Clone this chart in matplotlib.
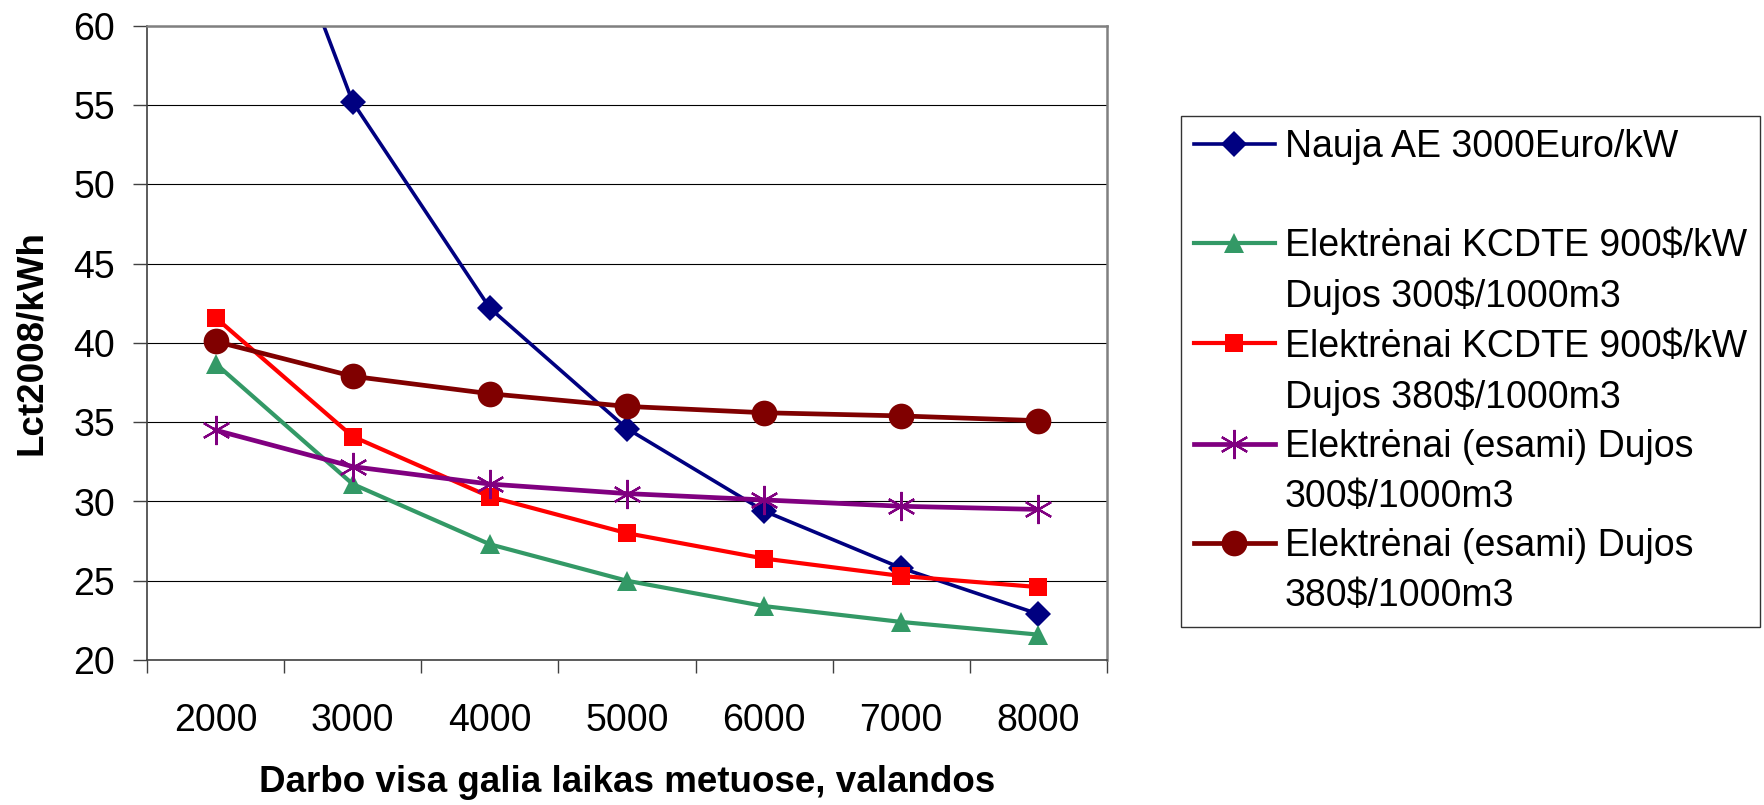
import matplotlib
matplotlib.use('Agg')
import matplotlib.pyplot as plt
from matplotlib.lines import Line2D

plt.rcParams['font.family'] = ['Liberation Sans', 'DejaVu Sans']

# data
hours = ['2000', '3000', '4000', '5000', '6000', '7000', '8000']
nauja_ae = [78.0, 55.2, 42.2, 34.6, 29.4, 25.8, 22.9]
kcdte_300 = [38.7, 31.1, 27.3, 25.0, 23.4, 22.4, 21.6]
kcdte_380 = [41.6, 34.1, 30.3, 28.0, 26.4, 25.3, 24.6]
esami_300 = [34.5, 32.2, 31.1, 30.5, 30.1, 29.7, 29.5]
esami_380 = [40.1, 37.9, 36.8, 36.0, 35.6, 35.4, 35.1]

series = [
    (nauja_ae, ['Nauja AE 3000Euro/kW', ' '], '#000080', 'D', 13.5, 2.6),
    (kcdte_300, ['Elektrėnai KCDTE 900$/kW', 'Dujos 300$/1000m3'], '#339966', '^', 14, 3.0),
    (kcdte_380, ['Elektrėnai KCDTE 900$/kW', 'Dujos 380$/1000m3'], '#FF0000', 's', 12.5, 3.0),
    (esami_300, ['Elektrėnai (esami) Dujos', '300$/1000m3'], '#800080', (6, 2, 0), 21, 3.4),
    (esami_380, ['Elektrėnai (esami) Dujos', '380$/1000m3'], '#800000', 'o', 18.5, 3.4),
]

fig = plt.figure(figsize=(17.65, 8.05), dpi=100)
ax = fig.add_axes([147 / 1765, 1 - 660 / 805, 960 / 1765, 634 / 805])

x = list(range(len(hours)))
handles = []
labels = []
for vals, lab, color, marker, ms, lw in series:
    mew = 1.6 if isinstance(marker, tuple) else 0
    line, = ax.plot(x, vals, color=color, lw=lw, marker=marker, markersize=ms,
                    markeredgecolor=color, markeredgewidth=mew,
                    solid_joinstyle='round')
    handles.append(line)
    labels.append(lab[0])
    # second text row of the legend entry, without a symbol
    handles.append(Line2D([], [], color='none'))
    labels.append(lab[1])

ax.set_xlim(-0.5, len(hours) - 0.5)
ax.set_ylim(20, 60)
ax.set_yticks(range(20, 61, 5))
ax.set_xticks([i - 0.5 for i in range(len(hours) + 1)])
ax.set_xticklabels([])
ax.set_xticks(x, minor=True)
ax.set_xticklabels(hours, minor=True)

ax.grid(axis='y', color='black', lw=0.8)
ax.set_axisbelow(True)

ax.tick_params(axis='y', which='major', direction='out', length=10, width=1,
               color='#404040', pad=13, labelsize=27)
ax.tick_params(axis='x', which='major', direction='out', length=9.5, width=1,
               color='#404040')
ax.tick_params(axis='x', which='minor', length=0, pad=31, labelsize=27)

ax.spines['left'].set_color('#404040')
ax.spines['bottom'].set_color('#404040')
ax.spines['left'].set_linewidth(1.2)
ax.spines['bottom'].set_linewidth(1.2)
ax.spines['top'].set_color('#808080')
ax.spines['right'].set_color('#808080')
ax.spines['top'].set_linewidth(1.8)
ax.spines['right'].set_linewidth(1.8)

ax.set_ylabel('Lct2008/kWh', fontsize=26.5, fontweight='bold', va='center')
ax.yaxis.set_label_coords(-0.1198, 0.5)
ax.set_xlabel('Darbo visa galia laikas metuose, valandos', fontsize=26.5,
              fontweight='bold', va='center')
ax.xaxis.set_label_coords(0.5, -0.194)

leg = fig.legend(handles, labels, loc='upper left',
                 bbox_to_anchor=(1181 / 1765, 1 - 116 / 805), borderaxespad=0,
                 fontsize=27, frameon=True, fancybox=False, shadow=False,
                 handlelength=2.15, handletextpad=0.27, borderpad=0.35,
                 labelspacing=0.36)
leg.get_frame().set_edgecolor('black')
leg.get_frame().set_linewidth(1.0)

plt.savefig('out.png', dpi=100)
